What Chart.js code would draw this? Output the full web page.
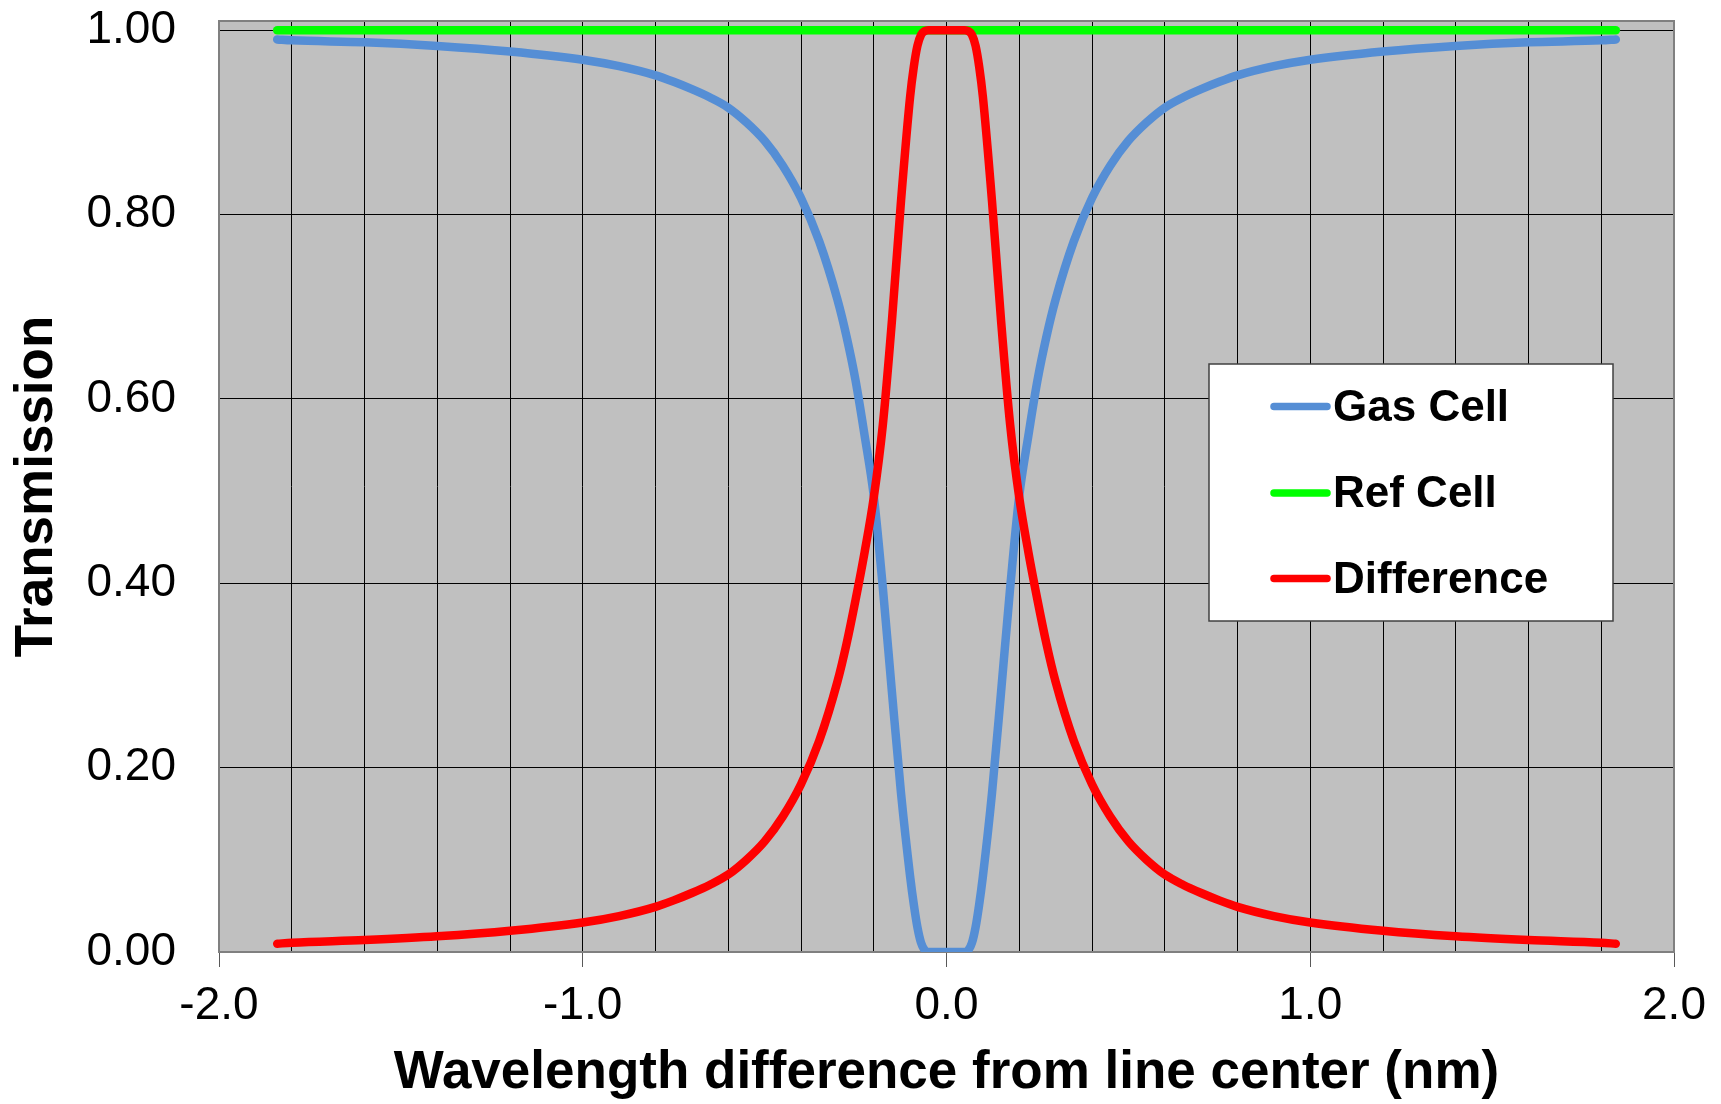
<!DOCTYPE html>
<html>
<head>
<meta charset="utf-8">
<script src="https://cdn.jsdelivr.net/npm/chart.js@4.4.1/dist/chart.umd.min.js"></script>
<style>
  html, body { margin: 0; padding: 0; background: #fff; }
  #wrap { width: 1721px; height: 1104px; position: relative; }
</style>
</head>
<body>
<div id="wrap"><canvas id="myChart"></canvas></div>
<script>
// wavelength offset from line center (nm)
const wavelengths = [
  -1.84, -1.8, -1.6, -1.4, -1.2, -1.0, -0.9, -0.8, -0.75, -0.7, -0.65, -0.6, -0.55, -0.5, -0.45, -0.4, -0.35,
  -0.3, -0.275, -0.25, -0.225, -0.2, -0.175, -0.15, -0.125, -0.1, -0.09, -0.08, -0.07, -0.06, -0.05,
  0,
  0.05, 0.06, 0.07, 0.08, 0.09, 0.1, 0.125, 0.15, 0.175, 0.2, 0.225, 0.25, 0.275, 0.3,
  0.35, 0.4, 0.45, 0.5, 0.55, 0.6, 0.65, 0.7, 0.75, 0.8, 0.9, 1.0, 1.2, 1.4, 1.6, 1.8, 1.84
];

const gasCell = [
  0.990, 0.989, 0.987, 0.983, 0.977, 0.968, 0.961, 0.951, 0.944, 0.936, 0.927, 0.916, 0.900, 0.880, 0.853, 0.818, 0.771,
  0.708, 0.668, 0.620, 0.560, 0.495, 0.395, 0.282, 0.172, 0.082, 0.052, 0.027, 0.010, 0.002, 0.000,
  0.000,
  0.000, 0.002, 0.010, 0.027, 0.052, 0.082, 0.172, 0.282, 0.395, 0.495, 0.560, 0.620, 0.668, 0.708,
  0.771, 0.818, 0.853, 0.880, 0.900, 0.916, 0.927, 0.936, 0.944, 0.951, 0.961, 0.968, 0.977, 0.983, 0.987, 0.989, 0.990
];

const difference = [
  0.009, 0.010, 0.013, 0.017, 0.023, 0.032, 0.039, 0.049, 0.056, 0.064, 0.073, 0.084, 0.100, 0.120, 0.147, 0.182, 0.229,
  0.293, 0.334, 0.382, 0.434, 0.493, 0.572, 0.685, 0.815, 0.928, 0.960, 0.983, 0.995, 0.999, 1.000,
  1.000,
  1.000, 0.999, 0.995, 0.983, 0.960, 0.928, 0.815, 0.685, 0.572, 0.493, 0.434, 0.382, 0.334, 0.293,
  0.229, 0.182, 0.147, 0.120, 0.100, 0.084, 0.073, 0.064, 0.056, 0.049, 0.039, 0.032, 0.023, 0.017, 0.013, 0.010, 0.009
];

const refCellX = [-1.84, 1.84];
const refCell = [1.0, 1.0];

const xLabels = [-2, -1, 0, 1, 2];

const FONT = "'Liberation Sans', Arial, Helvetica, sans-serif";

const toPoints = (xs, ys) => xs.map((x, i) => ({ x: x, y: ys[i] }));
const isLabelled = (v) => xLabels.some((t) => Math.abs(t - v) < 1e-6);

// grey plot area, frame and the legend box inside the plot
const plotFrame = {
  id: "plotFrame",
  beforeDraw(chart) {
    const { ctx, chartArea: a } = chart;
    ctx.save();
    ctx.fillStyle = "#c0c0c0";
    ctx.fillRect(a.left, a.top, a.width, a.height);
    ctx.restore();
  },
  beforeDatasetsDraw(chart) {
    const { ctx, chartArea: a } = chart;
    ctx.save();
    ctx.strokeStyle = "#808080";
    ctx.lineWidth = 2;
    ctx.strokeRect(a.left, a.top, a.width, a.height);
    ctx.restore();
  },
  afterDatasetsDraw(chart) {
    const ctx = chart.ctx;
    const box = { x: 1209, y: 364, w: 404, h: 257 };
    ctx.save();
    ctx.fillStyle = "#fff";
    ctx.fillRect(box.x, box.y, box.w, box.h);
    ctx.strokeStyle = "#404040";
    ctx.lineWidth = 1.5;
    ctx.strokeRect(box.x, box.y, box.w, box.h);
    const rows = [406.5, 493, 578.5];
    ctx.font = "bold 44px " + FONT;
    ctx.textBaseline = "middle";
    ctx.textAlign = "left";
    chart.data.datasets.forEach((ds, i) => {
      ctx.strokeStyle = ds.borderColor;
      ctx.lineWidth = 7.5;
      ctx.lineCap = "round";
      ctx.beginPath();
      ctx.moveTo(1274, rows[i]);
      ctx.lineTo(1327, rows[i]);
      ctx.stroke();
      ctx.fillStyle = "#000";
      ctx.fillText(ds.label, 1333, rows[i] + 2);
    });
    ctx.restore();
  }
};

new Chart("myChart", {
  type: "line",
  data: {
    datasets: [
      {
        label: "Gas Cell",
        data: toPoints(wavelengths, gasCell),
        borderColor: "#558ed5",
        order: 2
      },
      {
        label: "Ref Cell",
        data: toPoints(refCellX, refCell),
        borderColor: "#00ff00",
        order: 1
      },
      {
        label: "Difference",
        data: toPoints(wavelengths, difference),
        borderColor: "#ff0000",
        order: 0
      }
    ]
  },
  options: {
    responsive: true,
    maintainAspectRatio: false,
    animation: false,
    layout: { padding: { top: 21, right: 47, bottom: 0, left: 0 } },
    elements: {
      point: { radius: 0, hoverRadius: 0 },
      line: { borderWidth: 8.5, cubicInterpolationMode: "monotone", borderCapStyle: "round", borderJoinStyle: "round" }
    },
    plugins: {
      legend: { display: false },
      tooltip: { enabled: false }
    },
    scales: {
      x: {
        type: "linear",
        min: -2,
        max: 2,
        border: { display: false },
        grid: {
          color: "#000",
          lineWidth: 1,
          drawTicks: true,
          tickLength: 15,
          tickColor: (c) => (c.tick && isLabelled(c.tick.value) ? "#595959" : "rgba(0,0,0,0)")
        },
        ticks: {
          stepSize: 0.2,
          autoSkip: false,
          maxRotation: 0,
          padding: 12,
          color: "#000",
          font: { family: FONT, size: 46 },
          callback: (v) => (isLabelled(v) ? Math.round(v).toFixed(1) : "")
        },
        title: {
          display: true,
          text: "Wavelength difference from line center (nm)",
          color: "#000",
          font: { family: FONT, size: 53, weight: "bold", lineHeight: 1 },
          padding: { top: 0, bottom: 4 }
        },
        afterFit(s) {
          s.height = 152;
          s.paddingLeft = 0;
          s.paddingRight = 0;
        }
      },
      y: {
        min: 0,
        max: 1.01,
        border: { display: false },
        grid: { color: "#000", lineWidth: 1, drawTicks: false },
        ticks: {
          stepSize: 0.2,
          includeBounds: false,
          padding: 43,
          color: "#000",
          font: { family: FONT, size: 46 },
          callback: (v) => v.toFixed(2)
        },
        title: {
          display: true,
          text: "Transmission",
          color: "#000",
          font: { family: FONT, size: 53, weight: "bold", lineHeight: 1.2 },
          padding: { top: 6, bottom: 0 }
        },
        afterFit(s) {
          s.width = 219;
          s.paddingTop = 0;
          s.paddingBottom = 0;
        }
      }
    }
  },
  plugins: [plotFrame]
});
</script>
</body>
</html>
